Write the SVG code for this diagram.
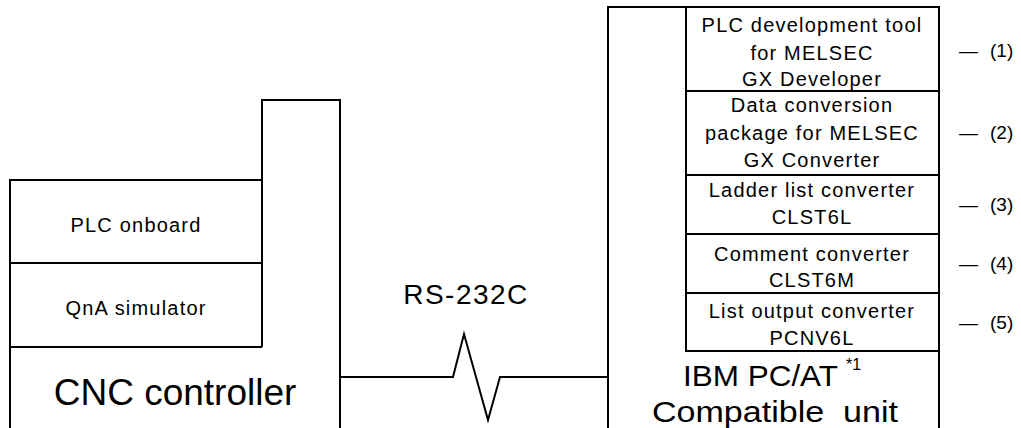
<svg xmlns="http://www.w3.org/2000/svg" width="1021" height="428" viewBox="0 0 1021 428">
<style>
.ln{fill:none;stroke:#000;stroke-width:2;stroke-linejoin:miter}
text{font-family:"Liberation Sans",Arial,Helvetica,sans-serif;fill:#000}
.s{font-size:20px;letter-spacing:1.2px;text-anchor:middle}
.big{font-size:37px;text-anchor:middle}
.pc{font-size:30px}
.tag{font-size:19px}
</style>
<rect width="1021" height="428" fill="#fff"/>
<g id="cnc">
<path class="ln" d="M10,430 V180 H262 V100 H340 V430"/>
<path class="ln" d="M262,180 V347 M10,263 H262 M10,347 H262"/>
<text class="s" x="136" y="232">PLC onboard</text>
<text class="s" x="136" y="315">QnA simulator</text>
<text class="big" x="175" y="405">CNC controller</text>
</g>
<g id="pc">
<path class="ln" d="M608,430 V7 H939 V430"/>
<path class="ln" d="M686,7 V351 H939 M686,91 H939 M686,175 H939 M686,234 H939 M686,293 H939"/>
<text class="s" x="812" y="32">PLC development tool</text>
<text class="s" x="812" y="60">for MELSEC</text>
<text class="s" x="812" y="86">GX Developer</text>
<text class="s" x="812" y="112">Data conversion</text>
<text class="s" x="812" y="140">package for MELSEC</text>
<text class="s" x="812" y="167">GX Converter</text>
<text class="s" x="812" y="197">Ladder list converter</text>
<text class="s" x="812" y="224">CLST6L</text>
<text class="s" x="812" y="261">Comment converter</text>
<text class="s" x="812" y="287">CLST6M</text>
<text class="s" x="812" y="318">List output converter</text>
<text class="s" x="812" y="345">PCNV6L</text>
<text class="pc" x="683" y="386" textLength="155" lengthAdjust="spacingAndGlyphs">IBM PC/AT</text>
<text x="846" y="370" style="font-size:16px">*1</text>
<text class="pc" x="652" y="422" textLength="246" lengthAdjust="spacingAndGlyphs" xml:space="preserve">Compatible  unit</text>
</g>
<g id="connectors">
<path class="ln" d="M340,377 H453 L464,334 L488,420 L500,377 H608"/>
<text x="466" y="304" style="font-size:28px;letter-spacing:1.5px;text-anchor:middle">RS-232C</text>
</g>
<g id="tags">
<text class="tag" y="57"><tspan x="959">—</tspan><tspan x="990">(1)</tspan></text>
<text class="tag" y="139"><tspan x="959">—</tspan><tspan x="990">(2)</tspan></text>
<text class="tag" y="211"><tspan x="959">—</tspan><tspan x="990">(3)</tspan></text>
<text class="tag" y="270"><tspan x="959">—</tspan><tspan x="990">(4)</tspan></text>
<text class="tag" y="329"><tspan x="959">—</tspan><tspan x="990">(5)</tspan></text>
</g>
</svg>
